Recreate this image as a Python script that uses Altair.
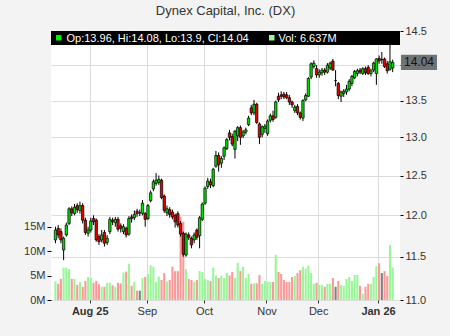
import altair as alt
import pandas as pd

TITLE = "Dynex Capital, Inc. (DX)"

opens = [11.70, 11.84, 11.80, 11.58, 11.76, 11.90, 12.08, 12.02, 12.12, 12.06,
         12.12, 11.94, 11.78, 11.82, 11.96, 11.94, 11.74, 11.70, 11.79, 11.67,
         11.80, 11.94, 11.91, 11.95, 11.87, 11.80, 11.84, 11.77, 11.98, 11.97,
         12.05, 12.03, 12.02, 12.02, 11.96, 12.18, 12.33, 12.40, 12.41, 12.44,
         12.24, 12.03, 12.07, 12.04, 12.00, 12.02, 11.90, 11.78, 11.52, 11.76,
         11.72, 11.70, 11.82, 11.75, 11.95, 12.15, 12.36, 12.42, 12.37, 12.62,
         12.76, 12.66, 12.75, 12.85, 13.06, 13.01, 12.84, 13.02, 13.13, 13.02,
         13.07, 13.17, 13.40, 13.33, 13.45, 13.18, 13.04, 13.12, 13.05, 13.23,
         13.29, 13.27, 13.56, 13.58, 13.59, 13.58, 13.54, 13.48, 13.36, 13.42,
         13.33, 13.26, 13.51, 13.56, 13.83, 13.98, 13.95, 13.86, 13.89, 13.93,
         13.90, 13.96, 14.06, 13.78, 13.74, 13.56, 13.60, 13.62, 13.66, 13.74,
         13.82, 13.88, 13.93, 13.88, 13.95, 13.97, 13.88, 13.93, 13.88, 14.10,
         14.08, 14.09, 14.02, 13.94, 13.96]
highs = [11.86, 11.88, 11.84, 11.74, 11.91, 12.10, 12.11, 12.14, 12.15, 12.17,
         12.15, 11.97, 11.86, 11.97, 12.00, 11.96, 11.77, 11.82, 11.82, 11.76,
         11.98, 11.97, 11.98, 11.98, 11.90, 11.89, 11.86, 11.99, 12.01, 12.06,
         12.08, 12.07, 12.19, 12.04, 12.14, 12.31, 12.45, 12.53, 12.50, 12.46,
         12.26, 12.12, 12.10, 12.07, 12.02, 12.05, 11.93, 11.80, 11.79, 11.79,
         11.74, 11.79, 11.84, 11.99, 12.16, 12.36, 12.47, 12.46, 12.60, 12.82,
         12.80, 12.75, 12.88, 12.99, 13.10, 13.05, 13.10, 13.15, 13.16, 13.10,
         13.13, 13.29, 13.44, 13.51, 13.47, 13.20, 13.16, 13.18, 13.24, 13.32,
         13.36, 13.50, 13.61, 13.63, 13.62, 13.62, 13.58, 13.50, 13.44, 13.45,
         13.35, 13.52, 13.60, 13.83, 14.04, 14.07, 14.00, 13.94, 13.96, 13.96,
         14.03, 14.05, 14.09, 13.93, 13.76, 13.64, 13.66, 13.72, 13.80, 13.86,
         13.93, 13.95, 13.96, 13.97, 13.98, 14.00, 13.95, 14.05, 14.10, 14.14,
         14.19, 14.11, 14.06, 14.30, 14.08]
lows = [11.66, 11.72, 11.66, 11.46, 11.74, 11.88, 11.99, 12.00, 12.03, 12.02,
        11.90, 11.76, 11.74, 11.79, 11.88, 11.68, 11.64, 11.67, 11.62, 11.64,
        11.77, 11.88, 11.86, 11.80, 11.79, 11.77, 11.73, 11.75, 11.91, 11.94,
        11.98, 11.99, 12.00, 11.86, 11.94, 12.16, 12.30, 12.37, 12.38, 12.20,
        12.03, 11.99, 11.97, 11.95, 11.85, 11.85, 11.74, 11.50, 11.50, 11.70,
        11.60, 11.66, 11.70, 11.60, 11.93, 12.13, 12.33, 12.34, 12.35, 12.60,
        12.55, 12.60, 12.70, 12.83, 12.96, 12.88, 12.72, 12.95, 12.90, 12.99,
        13.04, 13.15, 13.30, 13.30, 13.18, 12.91, 13.00, 13.06, 13.02, 13.20,
        13.21, 13.25, 13.48, 13.52, 13.52, 13.52, 13.44, 13.40, 13.33, 13.30,
        13.24, 13.22, 13.49, 13.55, 13.80, 13.95, 13.82, 13.82, 13.85, 13.86,
        13.88, 13.93, 13.92, 13.70, 13.52, 13.48, 13.55, 13.58, 13.63, 13.70,
        13.80, 13.84, 13.87, 13.86, 13.86, 13.86, 13.84, 13.90, 13.72, 14.02,
        14.02, 13.96, 13.88, 13.92, 13.90]
closes = [11.82, 11.76, 11.70, 11.72, 11.88, 12.08, 12.03, 12.10, 12.07, 12.12,
          11.94, 11.79, 11.82, 11.93, 11.92, 11.70, 11.68, 11.76, 11.66, 11.72,
          11.95, 11.92, 11.95, 11.83, 11.84, 11.86, 11.76, 11.96, 11.96, 12.01,
          12.02, 12.03, 12.15, 11.95, 12.12, 12.28, 12.42, 12.44, 12.45, 12.22,
          12.06, 12.08, 12.01, 11.98, 11.92, 11.88, 11.77, 11.53, 11.77, 11.73,
          11.64, 11.76, 11.73, 11.97, 12.14, 12.34, 12.43, 12.38, 12.58, 12.76,
          12.64, 12.72, 12.86, 12.97, 13.00, 12.91, 13.08, 13.13, 13.00, 13.07,
          13.10, 13.26, 13.33, 13.45, 13.20, 13.00, 13.14, 13.15, 13.22, 13.29,
          13.24, 13.48, 13.51, 13.56, 13.55, 13.54, 13.48, 13.44, 13.41, 13.33,
          13.27, 13.50, 13.57, 13.81, 14.02, 14.03, 13.86, 13.90, 13.93, 13.90,
          14.00, 14.03, 13.93, 13.78, 13.57, 13.62, 13.63, 13.66, 13.77, 13.84,
          13.91, 13.92, 13.90, 13.95, 13.89, 13.88, 13.92, 14.03, 14.09, 14.06,
          14.08, 13.98, 13.92, 14.05, 14.04]
volumes_m = [3.8, 3.3, 4.3, 6.6, 6.6, 6.3, 4.3, 4.3, 3.1, 3.7,
             2.7, 3.9, 4.7, 4.5, 3.5, 3.9, 3.2, 2.7, 2.7, 3.5,
             3.5, 3.0, 2.7, 3.5, 3.4, 5.6, 5.8, 7.4, 2.9, 3.7,
             1.9, 1.9, 4.5, 4.7, 5.3, 7.1, 6.8, 3.7, 4.8, 4.1,
             5.5, 3.8, 4.1, 6.8, 5.9, 5.9, 17.0, 16.0, 6.3, 4.3,
             4.1, 3.7, 4.1, 5.9, 5.7, 4.3, 4.1, 3.9, 6.6, 5.0,
             4.5, 5.0, 4.5, 5.5, 5.0, 5.7, 4.5, 7.6, 5.9, 6.8,
             4.5, 5.3, 3.3, 3.4, 3.4, 5.1, 3.3, 3.9, 3.7, 3.7,
             3.7, 9.2, 5.7, 5.3, 4.1, 3.7, 3.7, 4.7, 4.9, 5.5,
             6.1, 6.8, 6.4, 7.0, 5.5, 3.3, 3.5, 3.1, 3.1, 2.7,
             3.3, 3.3, 4.5, 2.7, 3.9, 3.1, 2.9, 4.3, 4.7, 3.9,
             5.1, 5.1, 2.9, 1.3, 2.7, 3.3, 3.3, 4.7, 6.9, 7.5,
             5.5, 5.9, 4.9, 11.2, 6.637]

tick_index = [13, 34, 55, 78, 97, 119]
tick_labels = ["Aug 25", "Sep", "Oct", "Nov", "Dec", "Jan 26"]
bold_ticks = [13, 119]
price_ticks = [11.0, 11.5, 12.0, 12.5, 13.0, 13.5, 14.0, 14.5]
hidden_price_label = 14.0   # covered by the last-price tag
volume_ticks_m = [0, 5, 10, 15]

W, H = 349, 269
FONT = "Liberation Sans"
TXT = "#333333"

n = len(closes)
df = pd.DataFrame({
    "i": list(range(n)),
    "open": opens, "high": highs, "low": lows, "close": closes,
    "volume": [v * 1e6 for v in volumes_m],
})
df["dir"] = ["up" if c > o else ("down" if c < o else "flat")
             for o, c in zip(opens, closes)]

label_expr = " : ".join(
    f"datum.value == {t} ? '{l}'" for t, l in zip(tick_index, tick_labels)
) + " : ''"
bold_test = " || ".join(f"datum.value == {t}" for t in bold_ticks)

x_enc = alt.X(
    "i:Q",
    scale=alt.Scale(domain=[0.6, 125.25], nice=False, zero=False),
    axis=alt.Axis(
        values=tick_index, labelExpr=label_expr, title=None, grid=True,
        gridColor="#dcdcdc", gridWidth=1, tickSize=3, tickColor="#333333",
        domain=False, labelFontSize=11, labelColor=TXT, labelFont=FONT,
        labelPadding=2,
        labelFontWeight={"condition": {"test": bold_test, "value": "bold"},
                         "value": "normal"},
    ),
)

price_scale = alt.Scale(type="log", domain=[11.0, 14.5], nice=False, zero=False)
price_axis = alt.Axis(
    orient="right", values=price_ticks, title=None, grid=True,
    labelExpr=f"datum.value == {hidden_price_label} ? '' : format(datum.value, '.1f')",
    gridColor="#dcdcdc", gridWidth=1, tickSize=3, tickColor="#000000",
    domain=False, labelFontSize=11, labelColor=TXT, labelFont=FONT,
    labelPadding=2,
)

up_dn = alt.Scale(domain=["up", "down", "flat"],
                  range=["#00dd00", "#e00000", "#000000"])
vol_cols = alt.Scale(domain=["up", "down", "flat"],
                     range=["#99f799", "#fb9999", "#808080"])

volume = alt.Chart(df).mark_bar(size=2.1, xOffset=1.1).encode(
    x=x_enc,
    y=alt.Y("volume:Q",
            scale=alt.Scale(domain=[0, 54.9e6], nice=False, zero=True),
            axis=alt.Axis(orient="left", values=[v * 1e6 for v in volume_ticks_m],
                          labelExpr="format(datum.value / 1e6, 'd') + 'M'",
                          title=None, grid=False, tickSize=4,
                          tickColor="#000000", domain=False, labelFontSize=11,
                          labelColor=TXT, labelFont=FONT, labelPadding=2)),
    color=alt.Color("dir:N", scale=vol_cols, legend=None),
)

y_low = alt.Y("low:Q", scale=price_scale, axis=price_axis)
wicks = alt.Chart(df).mark_rule(color="#000000", strokeWidth=1, xOffset=1.1).encode(
    x=x_enc, y=y_low, y2="high:Q",
)
bodies = alt.Chart(df).mark_bar(size=2.4, xOffset=1.1, stroke="#000000",
                                strokeWidth=0.7).encode(
    x=x_enc,
    y=alt.Y("open:Q", scale=price_scale, axis=price_axis),
    y2="close:Q",
    fill=alt.Fill("dir:N", scale=up_dn, legend=None),
)

last = pd.DataFrame({
    "close": [closes[-1]],
    "hdr": [f"Op:{opens[-1]:g}, Hi:{highs[-1]:g}, Lo:{lows[-1]:g}, Cl:{closes[-1]:g}"],
    "vol": [f"Vol: {volumes_m[-1]:.3f}M"],
    "title": [TITLE],
})

box = alt.Chart(last).mark_point(
    shape="M -1 -0.42 L 1 -0.42 L 1 0.42 L -1 0.42 Z", size=1296,
    filled=True, fill="#6f7376", strokeWidth=0, opacity=1,
).encode(x=alt.value(W + 19), y=alt.Y("close:Q", scale=price_scale, axis=price_axis))
box_text = alt.Chart(last).mark_text(
    fontSize=12, font=FONT, color="#111111", align="center", baseline="middle",
).encode(x=alt.value(W + 19), y=alt.Y("close:Q", scale=price_scale, axis=price_axis),
         text=alt.Text("close:Q", format=".2f"))

header = alt.Chart(last).mark_rect(color="#000000").encode(
    x=alt.value(0), x2=alt.value(W), y=alt.value(0), y2=alt.value(14))
sq1 = alt.Chart(last).mark_rect(color="#00ee00").encode(
    x=alt.value(5), x2=alt.value(10.5), y=alt.value(4), y2=alt.value(9.5))
sq2 = alt.Chart(last).mark_rect(color="#99f799").encode(
    x=alt.value(218), x2=alt.value(223.5), y=alt.value(4), y2=alt.value(9.5))
hdr_text = alt.Chart(last).mark_text(
    fontSize=11, font=FONT, color="#ffffff", align="left", baseline="middle",
).encode(x=alt.value(15.5), y=alt.value(7.5), text="hdr:N")
vol_text = alt.Chart(last).mark_text(
    fontSize=11, font=FONT, color="#ffffff", align="left", baseline="middle",
).encode(x=alt.value(227.5), y=alt.value(7.5), text="vol:N")
title_mark = alt.Chart(last).mark_text(
    fontSize=13, font=FONT, color=TXT, align="center", baseline="alphabetic",
).encode(x=alt.value(W / 2), y=alt.value(-16.5), text="title:N")

price = alt.layer(wicks, bodies, box, box_text, header, sq1, sq2, hdr_text,
                  vol_text, title_mark)

chart = alt.layer(volume, price).resolve_scale(y="independent").properties(
    width=W, height=H,
    padding={"left": 51, "top": 31, "right": 50, "bottom": 36},
    autosize=alt.AutoSizeParams(type="none"),
).configure(background="#f3f3f3").configure_view(fill="#ffffff", stroke=None)

chart.save("out.html", embed_options={"renderer": "svg", "actions": False})
